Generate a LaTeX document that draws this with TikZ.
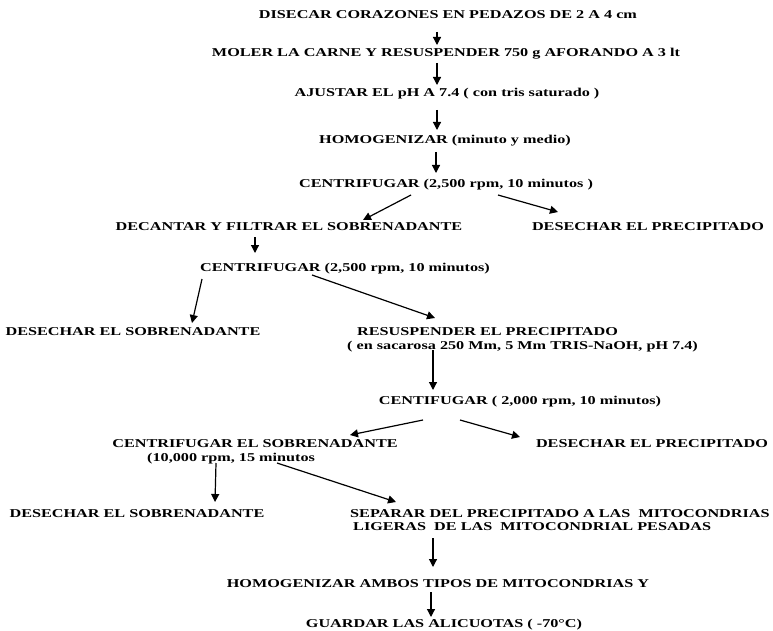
\documentclass[tikz,border=0pt]{standalone}
\usepackage{fontspec}
\setmainfont{Liberation Serif}[FakeStretch=1.35]
\usetikzlibrary{arrows.meta,calc}
\tikzset{
  lbl/.style={font=\bfseries\fontsize{12}{14}\selectfont, inner sep=0pt, anchor=base},
  lblw/.style={lbl, anchor=base west},
  arr/.style={line width=1.2pt, -{Triangle[length=8pt,width=8pt]}}
}
\begin{document}
\begin{tikzpicture}[x=1pt,y=-1pt]
\useasboundingbox (0,0) rectangle (773,631);
\node[lbl] (n1) at (448,19) {DISECAR CORAZONES EN PEDAZOS DE 2 A 4 cm};
\node[lbl] (n2) at (446,57) {MOLER LA CARNE Y RESUSPENDER 750 g AFORANDO A 3 lt};
\node[lbl] (n3) at (447,97) {AJUSTAR EL pH A 7.4 ( con tris saturado )};
\node[lbl] (n4) at (445,144) {HOMOGENIZAR (minuto y medio)};
\node[lbl] (n5) at (446,187) {CENTRIFUGAR (2,500 rpm, 10 minutos )};
\node[lbl] (n6) at (289,230) {DECANTAR Y FILTRAR EL SOBRENADANTE};
\node[lbl] (n7) at (648,230) {DESECHAR EL PRECIPITADO};
\node[lbl] (n8) at (345,271) {CENTRIFUGAR (2,500 rpm, 10 minutos)};
\node[lbl] (n9) at (133,335) {DESECHAR EL SOBRENADANTE};
\node[lblw] (n10) at (357,335) {RESUSPENDER EL PRECIPITADO};
\node[lblw] (n11) at (347,349) {( en sacarosa 250 Mm, 5 Mm TRIS-NaOH, pH 7.4)};
\node[lbl] (n12) at (520,404) {CENTIFUGAR ( 2,000 rpm, 10 minutos)};
\node[lbl] (n13) at (255,447) {CENTRIFUGAR EL SOBRENADANTE};
\node[lblw] (n14) at (147,461) {(10,000 rpm, 15 minutos};
\node[lbl] (n15) at (652,447) {DESECHAR EL PRECIPITADO};
\node[lbl] (n16) at (137,517) {DESECHAR EL SOBRENADANTE};
\node[lblw] (n17) at (350,517) {SEPARAR DEL PRECIPITADO A LAS \ MITOCONDRIAS};
\node[lblw] (n18) at (353,530) {LIGERAS \ DE LAS \ MITOCONDRIAL PESADAS};
\node[lbl] (n19) at (438,587) {HOMOGENIZAR AMBOS TIPOS DE MITOCONDRIAS Y};
\node[lbl] (n20) at (444,627) {GUARDAR LAS ALICUOTAS ( -70°C)};

\draw[arr] ($(n1.base)+(-11,13)$) -- ($(n2.base)+(-9,-12)$);
\draw[arr] ($(n2.base)+(-9,6)$) -- ($(n3.base)+(-10,-12)$);
\draw[arr] ($(n3.base)+(-10,13)$) -- ($(n4.base)+(-8,-14)$);
\draw[arr] ($(n4.base)+(-9,8)$) -- ($(n5.base)+(-10,-14)$);
\draw[arr] ($(n5.base)+(-35,8)$) -- ($(n6.base)+(74,-10)$);
\draw[arr] ($(n5.base)+(52,8)$) -- ($(n7.base)+(-90,-18)$);
\draw[arr] ($(n6.base)+(-34,7)$) -- ($(n8.base)+(-90,-18)$);
\draw[arr] ($(n8.base)+(-143,8)$) -- ($(n9.base)+(59,-12)$);
\draw[arr] ($(n8.base)+(-33,4)$) -- ($(n10.base west)+(78,-17)$);
\draw[arr] ($(n11.base west)+(86,1)$) -- ($(n12.base)+(-87,-14)$);
\draw[arr] ($(n12.base)+(-97,16)$) -- ($(n13.base)+(95,-12)$);
\draw[arr] ($(n12.base)+(-60,16)$) -- ($(n15.base)+(-132,-10)$);
\draw[arr] ($(n14.base west)+(69,2)$) -- ($(n16.base)+(78,-15)$);
\draw[arr] ($(n14.base west)+(130,2)$) -- ($(n17.base west)+(46,-15)$);
\draw[arr] ($(n18.base west)+(80,8)$) -- ($(n19.base)+(-5,-20)$);
\draw[arr] ($(n19.base)+(-7,5)$) -- ($(n20.base)+(-13,-10)$);
\end{tikzpicture}
\end{document}
